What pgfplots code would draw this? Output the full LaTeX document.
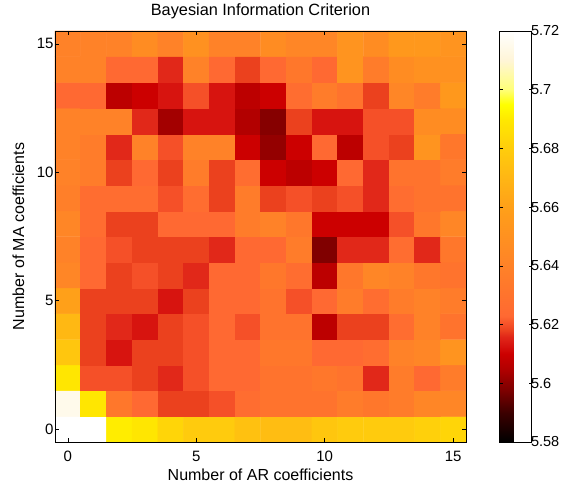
\documentclass[border=0pt]{standalone}
\usepackage{fontspec}
\setmainfont{Liberation Sans}
\usepackage{pgfplots}
\pgfplotsset{compat=1.18}
\pgfplotsset{
  colormap={bic}{
    rgb255(0pt)=(0,0,0)
    rgb255(10pt)=(60,0,0)
    rgb255(18pt)=(128,0,0)
    rgb255(20pt)=(140,0,0)
    rgb255(25pt)=(178,0,0)
    rgb255(30pt)=(204,0,0)
    rgb255(33pt)=(215,20,15)
    rgb255(36pt)=(225,40,25)
    rgb255(38pt)=(235,65,30)
    rgb255(40pt)=(245,80,40)
    rgb255(43pt)=(255,105,50)
    rgb255(50pt)=(255,115,45)
    rgb255(60pt)=(255,130,40)
    rgb255(70pt)=(255,145,32)
    rgb255(80pt)=(255,160,25)
    rgb255(90pt)=(255,182,20)
    rgb255(100pt)=(255,205,12)
    rgb255(110pt)=(255,233,0)
    rgb255(115pt)=(255,255,0)
    rgb255(120pt)=(255,255,120)
    rgb255(130pt)=(255,245,215)
    rgb255(140pt)=(255,255,255)
  }
}
\begin{document}
\begin{tikzpicture}
\useasboundingbox (-55pt,-40pt) rectangle (506pt,442pt);
\begin{axis}[
  at={(0pt,0pt)}, anchor=south west,
  width=411pt, height=411pt, scale only axis,
  xmin=-0.5, xmax=15.5, ymin=-0.5, ymax=15.5,
  xtick={0,5,10,15}, ytick={0,5,10,15},
  tick align=inside, major tick length=4pt,
  xtick pos=both, ytick pos=both,
  xticklabel pos=left, yticklabel pos=left,
  axis on top,
  axis line style={black, line width=0.6pt},
  every tick/.style={black, line width=0.6pt},
  colormap name=bic,
  point meta min=5.58, point meta max=5.72,
  /pgf/number format/assume math mode=true,
  tick label style={font=\fontsize{15}{17}\selectfont},
  xticklabel style={yshift=-5.5pt},
  yticklabel style={xshift=2pt},
  title={Bayesian Information Criterion},
  title style={font=\fontsize{16.3}{19}\selectfont, at={(axis description cs:0.5,1.0219)}, anchor=base},
  xlabel={Number of AR coefficients},
  xlabel style={font=\fontsize{16}{19}\selectfont, at={(axis description cs:0.5,-0.0925)}, anchor=base},
  ylabel={Number of MA coefficients},
  ylabel style={font=\fontsize{16}{19}\selectfont, at={(axis description cs:-0.075,0.5)}, anchor=base},
  colorbar,
  colorbar style={
    at={(parent axis.north east)}, anchor=north west, xshift=25pt,
    width=32pt, height=411pt, scale only axis,
    ytick={5.58,5.6,5.62,5.64,5.66,5.68,5.7,5.72},
    yticklabels={5.58,5.6,5.62,5.64,5.66,5.68,5.7,5.72},
    tick align=inside, major tick length=3pt,
    ytick pos=both, yticklabel pos=right,
    axis line style={black, line width=0.6pt},
    every tick/.style={black, line width=0.6pt},
    yticklabel style={font=\fontsize{14.5}{17}\selectfont, xshift=-4pt},
  },
]
\addplot[matrix plot*, mesh/cols=16, point meta=explicit] coordinates {
(0,0) [5.720] (1,0) [5.720] (2,0) [5.691] (3,0) [5.689] (4,0) [5.683] (5,0) [5.679] (6,0) [5.679] (7,0) [5.675] (8,0) [5.673] (9,0) [5.673] (10,0) [5.677] (11,0) [5.679] (12,0) [5.679] (13,0) [5.679] (14,0) [5.681] (15,0) [5.683]

(0,1) [5.715] (1,1) [5.689] (2,1) [5.633] (3,1) [5.623] (4,1) [5.618] (5,1) [5.618] (6,1) [5.620] (7,1) [5.626] (8,1) [5.630] (9,1) [5.630] (10,1) [5.630] (11,1) [5.636] (12,1) [5.633] (13,1) [5.636] (14,1) [5.643] (15,1) [5.643]

(0,2) [5.689] (1,2) [5.620] (2,2) [5.620] (3,2) [5.618] (4,2) [5.616] (5,2) [5.620] (6,2) [5.623] (7,2) [5.623] (8,2) [5.630] (9,2) [5.630] (10,2) [5.633] (11,2) [5.630] (12,2) [5.616] (13,2) [5.636] (14,2) [5.623] (15,2) [5.636]

(0,3) [5.677] (1,3) [5.618] (2,3) [5.613] (3,3) [5.618] (4,3) [5.618] (5,3) [5.620] (6,3) [5.623] (7,3) [5.623] (8,3) [5.633] (9,3) [5.633] (10,3) [5.623] (11,3) [5.623] (12,3) [5.626] (13,3) [5.640] (14,3) [5.643] (15,3) [5.652]

(0,4) [5.671] (1,4) [5.618] (2,4) [5.616] (3,4) [5.613] (4,4) [5.618] (5,4) [5.620] (6,4) [5.623] (7,4) [5.620] (8,4) [5.630] (9,4) [5.630] (10,4) [5.607] (11,4) [5.618] (12,4) [5.618] (13,4) [5.626] (14,4) [5.640] (15,4) [5.630]

(0,5) [5.660] (1,5) [5.618] (2,5) [5.618] (3,5) [5.618] (4,5) [5.613] (5,5) [5.618] (6,5) [5.623] (7,5) [5.623] (8,5) [5.630] (9,5) [5.620] (10,5) [5.623] (11,5) [5.636] (12,5) [5.626] (13,5) [5.636] (14,5) [5.640] (15,5) [5.636]

(0,6) [5.643] (1,6) [5.623] (2,6) [5.618] (3,6) [5.620] (4,6) [5.618] (5,6) [5.616] (6,6) [5.623] (7,6) [5.623] (8,6) [5.633] (9,6) [5.626] (10,6) [5.607] (11,6) [5.633] (12,6) [5.643] (13,6) [5.640] (14,6) [5.633] (15,6) [5.630]

(0,7) [5.640] (1,7) [5.623] (2,7) [5.620] (3,7) [5.618] (4,7) [5.618] (5,7) [5.618] (6,7) [5.616] (7,7) [5.623] (8,7) [5.623] (9,7) [5.636] (10,7) [5.598] (11,7) [5.616] (12,7) [5.616] (13,7) [5.626] (14,7) [5.616] (15,7) [5.633]

(0,8) [5.643] (1,8) [5.626] (2,8) [5.618] (3,8) [5.618] (4,8) [5.623] (5,8) [5.623] (6,8) [5.623] (7,8) [5.636] (8,8) [5.640] (9,8) [5.633] (10,8) [5.610] (11,8) [5.610] (12,8) [5.610] (13,8) [5.620] (14,8) [5.633] (15,8) [5.643]

(0,9) [5.638] (1,9) [5.626] (2,9) [5.626] (3,9) [5.626] (4,9) [5.620] (5,9) [5.626] (6,9) [5.618] (7,9) [5.636] (8,9) [5.618] (9,9) [5.620] (10,9) [5.618] (11,9) [5.620] (12,9) [5.616] (13,9) [5.626] (14,9) [5.630] (15,9) [5.630]

(0,10) [5.640] (1,10) [5.636] (2,10) [5.618] (3,10) [5.623] (4,10) [5.618] (5,10) [5.636] (6,10) [5.618] (7,10) [5.626] (8,10) [5.610] (9,10) [5.607] (10,10) [5.610] (11,10) [5.623] (12,10) [5.616] (13,10) [5.630] (14,10) [5.630] (15,10) [5.636]

(0,11) [5.640] (1,11) [5.636] (2,11) [5.616] (3,11) [5.640] (4,11) [5.620] (5,11) [5.640] (6,11) [5.640] (7,11) [5.610] (8,11) [5.601] (9,11) [5.610] (10,11) [5.623] (11,11) [5.607] (12,11) [5.620] (13,11) [5.618] (14,11) [5.652] (15,11) [5.633]

(0,12) [5.640] (1,12) [5.640] (2,12) [5.640] (3,12) [5.616] (4,12) [5.603] (5,12) [5.613] (6,12) [5.613] (7,12) [5.605] (8,12) [5.599] (9,12) [5.618] (10,12) [5.613] (11,12) [5.613] (12,12) [5.620] (13,12) [5.620] (14,12) [5.647] (15,12) [5.647]

(0,13) [5.623] (1,13) [5.623] (2,13) [5.607] (3,13) [5.610] (4,13) [5.613] (5,13) [5.620] (6,13) [5.613] (7,13) [5.607] (8,13) [5.610] (9,13) [5.626] (10,13) [5.636] (11,13) [5.630] (12,13) [5.618] (13,13) [5.643] (14,13) [5.636] (15,13) [5.655]

(0,14) [5.640] (1,14) [5.640] (2,14) [5.623] (3,14) [5.623] (4,14) [5.616] (5,14) [5.640] (6,14) [5.623] (7,14) [5.618] (8,14) [5.623] (9,14) [5.633] (10,14) [5.623] (11,14) [5.652] (12,14) [5.636] (13,14) [5.647] (14,14) [5.650] (15,14) [5.650]

(0,15) [5.640] (1,15) [5.640] (2,15) [5.640] (3,15) [5.647] (4,15) [5.640] (5,15) [5.650] (6,15) [5.640] (7,15) [5.640] (8,15) [5.647] (9,15) [5.643] (10,15) [5.643] (11,15) [5.652] (12,15) [5.647] (13,15) [5.655] (14,15) [5.655] (15,15) [5.652]
};
\end{axis}
\end{tikzpicture}
\end{document}
